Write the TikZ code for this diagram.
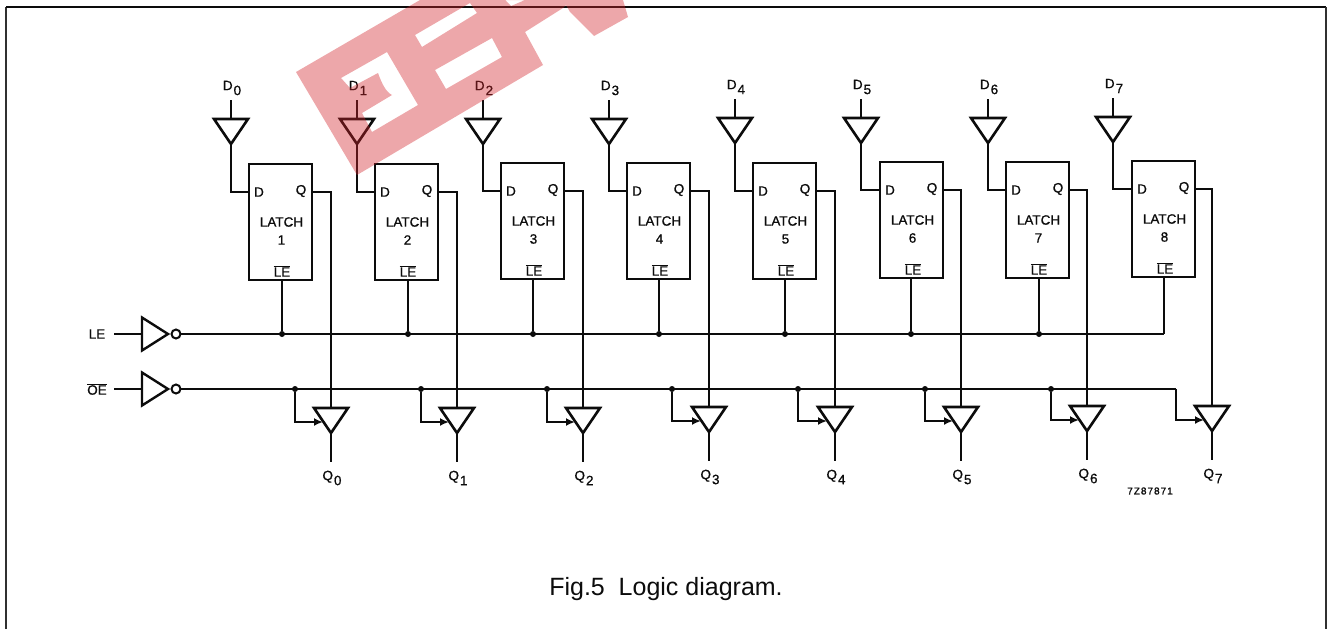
\documentclass[tikz,border=0pt]{standalone}
\usepackage{fontspec}
\setmainfont[FakeBold=0.9]{Liberation Sans}
\newfontfamily\codefont[LetterSpace=10,FakeBold=1.4]{Liberation Sans}
\newfontfamily\capfont{Liberation Sans}
\usetikzlibrary{shapes.geometric,arrows.meta,calc}
\definecolor{ink}{HTML}{0C0C0C}
\definecolor{wm}{rgb}{.82,.14,.17}
\tikzset{
  wire/.style={draw=ink,line width=1.8pt},
  arrowwire/.style={wire,-{Latex[length=9pt,width=8pt]}},
  frameside/.style={draw=ink!85,line width=2pt},
  frametop/.style={draw=ink,line width=1.2pt},
  bufnode/.style={isosceles triangle,isosceles triangle stretches,draw=ink,line width=2.6pt,
     shape border rotate=-90,minimum height=25pt,minimum width=34pt,inner sep=0pt,outer sep=0pt,anchor=apex,miter limit=3},
  invnode/.style={isosceles triangle,isosceles triangle stretches,draw=ink,line width=2.4pt,
     shape border rotate=0,minimum height=26pt,minimum width=33pt,inner sep=0pt,outer sep=0pt,anchor=apex,miter limit=3},
  bubble/.style={circle,draw=ink,line width=2pt,minimum size=9pt,inner sep=0pt,outer sep=0pt},
  latchbox/.style={rectangle,draw=ink,line width=2.5pt,minimum width=63pt,minimum height=116pt,inner sep=0pt,outer sep=0pt},
  dotnode/.style={circle,fill=ink,minimum size=6pt,inner sep=0pt,outer sep=0pt},
  lab/.style={font=\fontsize{13.5}{15}\selectfont,text=ink,inner sep=0pt,outer sep=0pt},
}
\newcommand{\subl}[2]{#1\kern1pt\raisebox{-5pt}{#2}}
\begin{document}
\begin{tikzpicture}[x=1pt,y=-1pt]
\useasboundingbox (0,0) rectangle (1332,629);
% frame
\coordinate (f1) at (6,629); \coordinate (f2) at (6,7); \coordinate (f3) at (1326,7); \coordinate (f4) at (1326,629);
\draw[frameside] (f1) -- (f2);
\draw[frametop] (f2) -- (f3);
\draw[frameside] (f3) -- (f4);
% control inverters
\coordinate (LEin) at (114,334);
\coordinate (OEin) at (114,389);
\node[invnode] (invLE) at (168,334) {};
\node[invnode] (invOE) at (168,389) {};
\node[bubble] (bubLE) at (176,334) {};
\node[bubble] (bubOE) at (176,389) {};
\node[lab] (tLE) at (97,334) {LE};
\node[lab] (tOE) at (97,389) {$\overline{\mbox{OE}}$};
\draw[wire] (LEin) -- (invLE.west |- LEin);
\draw[wire] (OEin) -- (invOE.west |- OEin);
\coordinate (LEend) at (1164,334);
\coordinate (OEend) at (1176,389);
\draw[wire] (bubLE.east) -- (LEend);
\draw[wire] (bubOE.east) -- (OEend);
% latches
\foreach \i/\dn/\dx/\bl/\qx/\tx/\ox/\by/\tt/\qt in {
  1/0/231/249/331/282/295/192/120/408,
  2/1/357/375/457/408/421/192/120/408,
  3/2/483/501/583/533/547/191/120/408,
  4/3/609/627/709/659/672/191/120/407,
  5/4/735/753/835/785/798/191/119/407,
  6/5/861/880/961/911/925/190/119/407,
  7/6/988/1006/1087/1039/1051/190/119/406,
  8/7/1113/1132/1212/1164/0/189/118/406}
{
  \pgfmathsetmacro{\cx}{\bl+31.5}
  \pgfmathsetmacro{\cy}{\by+30}
  \pgfmathsetmacro{\tip}{\tt+24}
  \node[latchbox] (L\i) at (\cx,\cy) {};
  \node[lab] (LD\i) at (\bl+10,\by) {D};
  \node[lab] (LQ\i) at (\bl+52,\by-1) {Q};
  \node[lab] (LT\i) at (\cx+1,\by+30) {LATCH};
  \node[lab] (LN\i) at (\cx+1,\by+48) {\i};
  \node[lab] (LE\i) at (\cx+1.5,\by+79) {$\overline{\mbox{LE}}$};
  % data input
  \coordinate (Din\i) at (\dx,\tt-20);
  \node[bufnode] (BD\i) at (\dx,\tip) {};
  \node[lab] (tD\i) at (\dx+1,\tt-32) {\subl{D}{\dn}};
  \draw[wire] (Din\i) -- (Din\i |- BD\i.north);
  \coordinate (Dp\i) at (\bl,\by);
  \coordinate (Qp\i) at (\bl+63,\by);
  \draw[wire] (BD\i.apex) |- (Dp\i);
  % output
  \pgfmathsetmacro{\qtip}{\qt+25}
  \node[bufnode] (BQ\i) at (\qx,\qtip) {};
  \coordinate (Qout\i) at (\qx,\qt+54);
  \node[lab] (tQ\i) at (\qx+1,\qt+70) {\subl{Q}{\dn}};
  \draw[wire] (Qp\i) -| (BQ\i.north);
  \draw[wire] (BQ\i.apex) -- (Qout\i);
  \coordinate (arr\i) at ($(BQ\i.apex)+(-8,-11)$);
  % LE tap
  \ifnum\i<8
    \node[dotnode] (dLE\i) at (\tx,334) {};
    \draw[wire] (L\i.south -| dLE\i) -- (dLE\i);
    \node[dotnode] (dOE\i) at (\ox,389) {};
    \draw[arrowwire] (dOE\i) |- (arr\i);
  \else
    \draw[wire] (L\i.south -| LEend) -- (LEend);
    \draw[arrowwire] (OEend) |- (arr\i);
  \fi
}
\node[lab,font=\fontsize{10}{12}\selectfont\codefont] (code) at (1150,491) {7Z87871};
\node[lab,font=\fontsize{25}{28}\selectfont\capfont] (cap) at (666,589) {Fig.5\ \ Logic diagram.};
% watermark
\fill[wm,fill opacity=.4,even odd rule]
  (296,72) -- (357,175) -- (543,65) -- (525,32) -- (563,8) -- (566,5) -- (570,12) -- (594,36) -- (628,17) -- (623,0) -- (420,0) -- cycle
  (415,35) -- (470,3) -- (477,13) -- (422,47) -- cycle
  (435,70) -- (492,38) -- (502,57) -- (446,89) -- cycle
  (505,0) -- (511,6) -- (525,0) -- cycle
  (341,78) -- (387,52) -- (418,105) -- (372,132) -- (362,113) -- (392,95) .. controls (386,92) and (382,84) .. (378,73) -- (350,88) -- cycle;
\end{tikzpicture}
\end{document}
